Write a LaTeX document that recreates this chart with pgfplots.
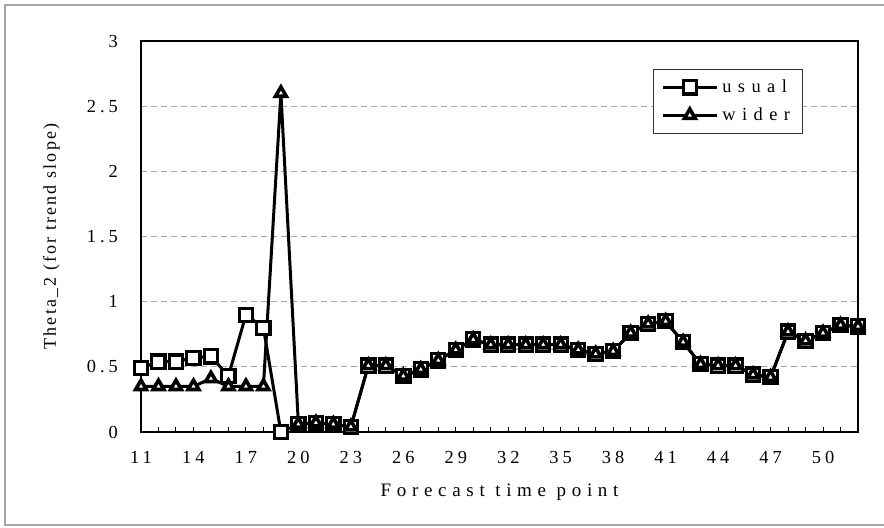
\documentclass[border=0pt]{standalone}
\usepackage{fontspec}
\setmainfont{Liberation Serif}
\newfontfamily\tickfont{Liberation Serif}[LetterSpace=22]
\newfontfamily\labfont{Liberation Serif}[LetterSpace=12]
\newfontfamily\xlabfont{Liberation Serif}[LetterSpace=30]
\newfontfamily\legfont{Liberation Serif}[LetterSpace=35]
\usepackage{pgfplots}
\usepackage{pgfplotstable}
\pgfplotsset{compat=1.18}

\pgfplotstableread{
x usual
11 0.49
12 0.54
13 0.54
14 0.57
15 0.58
16 0.43
17 0.90
18 0.80
19 0.00
20 0.06
21 0.07
22 0.06
23 0.04
24 0.51
25 0.51
26 0.43
27 0.48
28 0.55
29 0.63
30 0.71
31 0.67
32 0.67
33 0.67
34 0.67
35 0.67
36 0.63
37 0.60
38 0.62
39 0.76
40 0.83
41 0.85
42 0.69
43 0.52
44 0.51
45 0.51
46 0.44
47 0.42
48 0.77
49 0.70
50 0.76
51 0.82
52 0.81
}\usualtab

\pgfplotstableread{
x wider
11 0.35
12 0.35
13 0.35
14 0.35
15 0.41
16 0.35
17 0.35
18 0.35
19 2.60
20 0.06
21 0.07
22 0.06
23 0.04
24 0.51
25 0.51
26 0.43
27 0.48
28 0.55
29 0.63
30 0.71
31 0.67
32 0.67
33 0.67
34 0.67
35 0.67
36 0.63
37 0.60
38 0.62
39 0.76
40 0.83
41 0.85
42 0.69
43 0.52
44 0.51
45 0.51
46 0.44
47 0.42
48 0.77
49 0.70
50 0.76
51 0.82
52 0.81
}\widertab

\begin{document}
\begin{tikzpicture}
\begin{axis}[
  name=ax,
  scale only axis,
  width=358.5pt, height=195.5pt,
  xmin=11, xmax=52, ymin=0, ymax=3,
  xtick={11,14,...,50},
  xticklabels={11,14,17,20,23,26,29,32,35,38,41,44,47,50},
  minor xtick={11,...,52},
  ytick={0,0.5,1,1.5,2,2.5,3},
  yticklabels={0,0.5,1,1.5,2,2.5,3},
  tick pos=left,
  tick align=inside,
  major tick length=2.5pt, minor tick length=2.5pt,
  xtick style={black, line width=0.5pt},
  ytick style={draw=none},
  axis line style={black, line width=1.3pt},
  ymajorgrids,
  grid style={gray!70, densely dashed, line width=0.4pt},
  ticklabel style={font=\tickfont\fontsize{9.2}{11}\selectfont},
  xticklabel style={yshift=-6pt},
  yticklabel style={xshift=-8pt},
  xlabel={Forecast time point},
  xlabel style={at={(axis description cs:0.5,-0.153)}, anchor=center, font=\xlabfont\fontsize{9.5}{11}\selectfont},
  ylabel={Theta\_2 (for trend slope)},
  ylabel style={at={(axis description cs:-0.125,0.5)}, anchor=center, font=\labfont\fontsize{9}{11}\selectfont},
  clip=false,
  legend style={at={(rel axis cs:0.714,0.928)}, anchor=north west, draw=black!80, fill=white,
    font=\legfont\fontsize{9.2}{11}\selectfont, inner xsep=4pt, inner ysep=3pt, row sep=2pt},
  legend cell align=left,
  legend image code/.code={
    \draw[mark repeat=2,mark phase=2,#1] plot coordinates {(0pt,0pt)(13.5pt,0pt)(27pt,0pt)};
  },
]
\addplot[black, line width=1.5pt, mark=square*, mark size=3.3pt, mark options={fill=white, line width=1.6pt}] table[x=x, y=usual] {\usualtab};
\addlegendentry{usual}
\addplot[black, line width=1.5pt, mark=triangle*, mark size=3.1pt, mark options={fill=white, line width=1.8pt}] table[x=x, y=wider] {\widertab};
\addlegendentry{wider}
\end{axis}
\draw[gray!70, line width=0.6pt] ([shift={(400pt,-46.5pt)}]ax.south west) -- ([shift={(-68pt,-46.5pt)}]ax.south west) -- ([shift={(-68pt,213.5pt)}]ax.south west) -- ([shift={(400pt,213.5pt)}]ax.south west);
\pgfresetboundingbox
\path[use as bounding box] ([shift={(-70.5pt,-47.5pt)}]ax.south west) rectangle ([shift={(371.5pt,216pt)}]ax.south west);
\end{tikzpicture}
\end{document}
